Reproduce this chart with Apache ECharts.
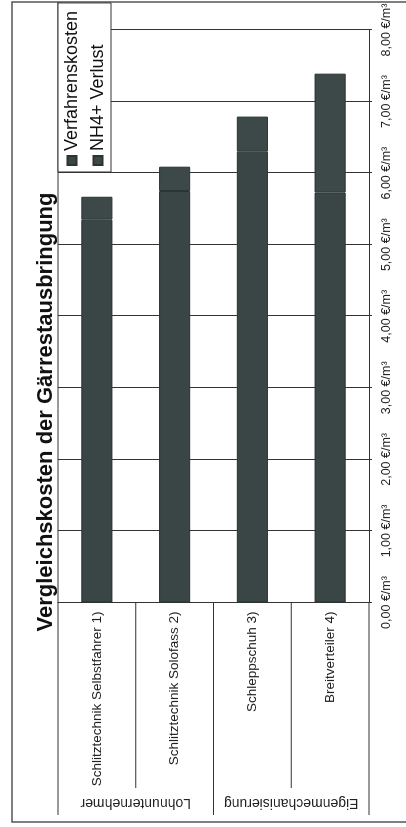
<!DOCTYPE html>
<html>
<head>
<meta charset="utf-8">
<script src="https://cdn.jsdelivr.net/npm/echarts@6/dist/echarts.min.js"></script>
<style>
  html, body { margin: 0; padding: 0; width: 406px; height: 827px; overflow: hidden; background: #fff; }
  /* the scan is turned on its side, so the chart is drawn upright and rotated */
  #chart { position: absolute; left: 0; top: 0; width: 827px; height: 406px;
           transform-origin: 0 0; transform: translate(0, 827px) rotate(-90deg); }
</style>
</head>
<body>
<div id="chart"></div>
<script>
const categories = ['Schlitztechnik Selbstfahrer 1)', 'Schlitztechnik Solofass 2)', 'Schleppschuh 3)', 'Breitverteiler 4)'];
const groupNames = ['Lohnunternehmer', 'Eigenmechanisierung'];
const groupSpans = [[0, 1], [2, 3]];
const verfahrenskosten = [5.35, 5.75, 6.30, 5.73];
const nh4Verlust = [0.32, 0.34, 0.49, 1.66];
const valueMin = 0;
const valueMax = 8;

const font = '"Liberation Sans", Arial, sans-serif';
const lineColor = '#333';
const barColor = '#3a4645';

// grid in the upright frame
const gLeft = 224.5, gTop = 58, gRight = 30, gBottom = 37;
const W = 827, H = 406;
const gH = H - gTop - gBottom;
const band = gH / categories.length;

const chart = echarts.init(document.getElementById('chart'));

const graphics = [
  { type: 'rect', shape: { x: 5, y: 12, width: 820, height: 420 },
    style: { fill: 'none', stroke: '#555', lineWidth: 1.5 } },
  { type: 'text', x: 415, y: 46,
    style: { text: 'Vergleichskosten der Gärrestausbringung', font: 'bold 22px ' + font,
             fill: '#111', textAlign: 'center', textVerticalAlign: 'middle' } },
  { type: 'line', shape: { x1: 12, y1: gTop, x2: 825, y2: gTop }, style: { stroke: lineColor, lineWidth: 1 } },
  { type: 'line', shape: { x1: 12, y1: gTop + gH, x2: gLeft, y2: gTop + gH }, style: { stroke: lineColor, lineWidth: 1 } }
];
// separators between categories (long between groups, short inside a group)
for (let i = 1; i < categories.length; i++) {
  const y = gTop + band * i;
  const between = groupSpans.some(s => s[0] === i);
  graphics.push({ type: 'line', shape: { x1: between ? 12 : 39, y1: y, x2: gLeft, y2: y },
                  style: { stroke: lineColor, lineWidth: 1 } });
}
groupNames.forEach((name, i) => {
  const s = groupSpans[i];
  const y = gTop + band * (s[0] + s[1] + 1) / 2;
  graphics.push({ type: 'text', x: 24, y: y, rotation: Math.PI / 2,
    style: { text: name, font: '14px ' + font, fill: '#222', textAlign: 'center', textVerticalAlign: 'middle' } });
});

chart.setOption({
  animation: false,
  backgroundColor: '#fff',
  grid: { left: gLeft, top: gTop, right: gRight, bottom: gBottom },
  legend: {
    orient: 'vertical',
    left: 655,
    top: 58,
    padding: [5, 8, 4, 6],
    itemGap: 8,
    itemWidth: 9,
    itemHeight: 9,
    icon: 'rect',
    backgroundColor: '#fff',
    borderColor: lineColor,
    borderWidth: 1,
    textStyle: { fontSize: 18, fontFamily: font, color: '#111' },
    data: ['Verfahrenskosten', 'NH4+ Verlust']
  },
  xAxis: {
    type: 'value',
    min: valueMin,
    max: valueMax,
    interval: 1,
    axisLine: { show: true, lineStyle: { color: lineColor } },
    axisTick: { show: true, length: 3, lineStyle: { color: lineColor } },
    splitLine: { lineStyle: { color: lineColor, width: 1 } },
    axisLabel: {
      margin: 11,
      fontSize: 12.5,
      fontFamily: font,
      color: '#222',
      formatter: v => v.toFixed(2).replace('.', ',') + ' €/m³'
    }
  },
  yAxis: {
    type: 'category',
    inverse: true,
    data: categories,
    axisLine: { show: true, lineStyle: { color: lineColor } },
    axisTick: { show: false },
    axisLabel: { margin: 9, fontSize: 13.5, fontFamily: font, color: '#222' }
  },
  series: [
    {
      name: 'Verfahrenskosten',
      type: 'bar',
      stack: 'total',
      barWidth: '40%',
      data: verfahrenskosten,
      itemStyle: { color: barColor, borderColor: '#2b3433', borderWidth: 1 }
    },
    {
      name: 'NH4+ Verlust',
      type: 'bar',
      stack: 'total',
      barWidth: '40%',
      data: nh4Verlust,
      itemStyle: { color: '#3d4948', borderColor: '#2b3433', borderWidth: 1 }
    }
  ],
  graphic: graphics
});
</script>
</body>
</html>
